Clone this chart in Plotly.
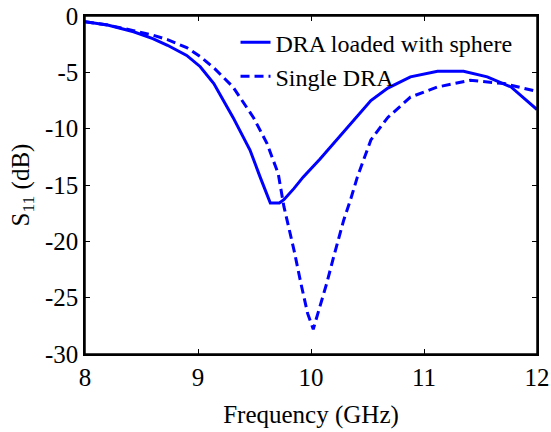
import plotly.graph_objects as go

# DRA loaded with sphere
freq_loaded = [8.0, 8.2, 8.43, 8.6, 8.73, 8.9, 9.02, 9.14, 9.31, 9.46, 9.55, 9.64,
               9.72, 9.76, 9.85, 9.93, 10.08, 10.23, 10.38, 10.53, 10.68, 10.88,
               11.12, 11.35, 11.56, 11.77, 12.0]
s11_loaded = [-0.5, -0.8, -1.4, -2.0, -2.6, -3.5, -4.5, -6.0, -9.0, -11.9, -14.3, -16.6,
              -16.6, -16.3, -15.3, -14.3, -12.7, -11.0, -9.2, -7.5, -6.4, -5.4,
              -4.9, -4.9, -5.4, -6.3, -8.3]

# Single DRA
freq_single = [8.0, 8.2, 8.43, 8.6, 8.73, 8.9, 9.02, 9.15, 9.31, 9.49, 9.61, 9.71,
               9.76, 9.85, 9.91, 9.97, 10.02, 10.08, 10.14, 10.2, 10.26, 10.29,
               10.35, 10.41, 10.53, 10.68, 10.88, 11.12, 11.41, 11.71, 12.0]
s11_single = [-0.5, -0.8, -1.3, -1.7, -2.1, -2.8, -3.6, -4.7, -6.3, -9.0, -11.3, -14.0,
              -16.9, -20.8, -23.7, -26.4, -27.8, -25.8, -23.7, -21.4, -19.3, -18.1,
              -16.3, -14.3, -11.0, -9.0, -7.2, -6.3, -5.7, -6.0, -6.7]

y_ticks = [0, -5, -10, -15, -20, -25, -30]
y_labels = ["0", "-5", "-10", "-15", "-20", "-25", "-30"]

fnt = "Liberation Serif, Times New Roman, serif"

fig = go.Figure()
fig.add_trace(go.Scatter(x=freq_loaded, y=s11_loaded, mode="lines",
                         name="DRA loaded with sphere",
                         line=dict(color="#0000ff", width=3)))
fig.add_trace(go.Scatter(x=freq_single, y=s11_single, mode="lines",
                         name="Single DRA",
                         line=dict(color="#0000ff", width=3, dash="9px,5px")))

axis_common = dict(showline=True, linecolor="black", linewidth=1.5, mirror="allticks",
                   ticks="inside", ticklen=5, tickcolor="black", showgrid=False,
                   zeroline=False, automargin=False, ticklabeloverflow="allow",
                   tickfont=dict(family=fnt, size=25, color="black"))

fig.update_xaxes(range=[8, 12], dtick=1,
                 title=dict(text="Frequency (GHz)", font=dict(family=fnt, size=25, color="black"),
                            standoff=16),
                 **axis_common)
fig.update_yaxes(range=[-30, 0], tickvals=y_ticks, ticktext=y_labels,
                 title=dict(text="S<sub>11</sub> (dB)", font=dict(family=fnt, size=25, color="black"),
                            standoff=8),
                 **axis_common)

# frame round the plot area
fig.add_shape(type="rect", xref="paper", yref="paper", x0=0, y0=0, x1=1, y1=1,
              line=dict(color="black", width=1.5), layer="above")

fig.update_layout(
    width=551, height=432,
    margin=dict(l=85, r=14, t=16, b=78),
    plot_bgcolor="white", paper_bgcolor="white",
    legend=dict(x=0.333, y=0.988, xanchor="left", yanchor="top",
                bgcolor="rgba(0,0,0,0)",
                font=dict(family=fnt, size=24, color="black")),
)

# drop the default body margin so the figure sits at the page corner
fig.write_html("out.html", config={"displayModeBar": False},
               post_script="document.body.style.margin='0';")
